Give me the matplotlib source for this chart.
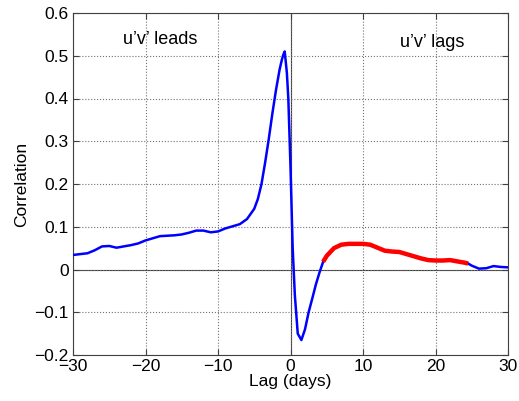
import numpy as np
import matplotlib.pyplot as plt

plt.rcParams['font.family'] = ['Liberation Sans', 'DejaVu Sans']

# lag (days) and correlation
lag = [-30, -29, -28, -27, -26, -25, -24, -23, -22, -21, -20, -19, -18, -17, -16,
       -15, -14, -13, -12, -11, -10, -9, -8, -7, -6, -5, -4.5, -4, -3.5, -3, -2.5,
       -2, -1.5, -1.2, -1, -0.8, -0.5, -0.3, 0, 0.3, 0.6, 1.0, 1.5, 2, 2.5, 3,
       3.5, 4, 4.5]
corr = [0.034, 0.036, 0.038, 0.045, 0.054, 0.055, 0.051, 0.054, 0.057, 0.061,
        0.068, 0.073, 0.078, 0.079, 0.080, 0.082, 0.086, 0.091, 0.091, 0.087,
        0.089, 0.096, 0.101, 0.106, 0.118, 0.142, 0.165, 0.200, 0.250, 0.305,
        0.365, 0.420, 0.468, 0.490, 0.502, 0.510, 0.46, 0.40, 0.24, 0.05, -0.06,
        -0.15, -0.165, -0.140, -0.100, -0.068, -0.035, -0.007, 0.018]

# significant part (red)
lag_sig = [4.5, 5, 6, 7, 8, 9, 10, 11, 12, 13, 14, 15, 16, 17, 18, 19, 20, 21,
           22, 23, 24, 24.5]
corr_sig = [0.018, 0.032, 0.050, 0.058, 0.060, 0.060, 0.060, 0.058, 0.051,
            0.044, 0.042, 0.041, 0.036, 0.031, 0.026, 0.022, 0.021, 0.021,
            0.022, 0.019, 0.016, 0.014]

lag_end = [24.5, 25, 26, 27, 28, 29, 30]
corr_end = [0.014, 0.009, 0.002, 0.003, 0.008, 0.006, 0.005]

fig = plt.figure(figsize=(5.19, 4.01), dpi=100)
ax = fig.add_axes([73 / 519, 1 - 355 / 401, 435 / 519, 342 / 401])

ax.axhline(0, color='0.25', lw=0.8, zorder=1)
ax.axvline(0, color='0.25', lw=0.8, zorder=1)

ax.plot(lag, corr, color='blue', lw=1.8, zorder=3)
ax.plot(lag_end, corr_end, color='blue', lw=1.8, zorder=3)
ax.plot(lag_sig, corr_sig, color='red', lw=3.2, zorder=4, solid_capstyle='butt')

ax.set_xlim(-30, 30)
ax.set_ylim(-0.2, 0.6)
ax.set_xticks([-30, -20, -10, 0, 10, 20, 30])
ax.set_yticks([-0.2, -0.1, 0, 0.1, 0.2, 0.3, 0.4, 0.5, 0.6])
ax.set_yticklabels(['\u22120.2', '\u22120.1', '0', '0.1', '0.2', '0.3', '0.4', '0.5', '0.6'])
ax.grid(True, linestyle=':', color='0.45', lw=0.8)
ax.tick_params(direction='in', top=True, right=True, labelsize=12.5, length=4,
               color='0.25', pad=3)
for s in ax.spines.values():
    s.set_color('0.25')
    s.set_linewidth(0.8)

ax.set_xlabel('Lag (days)', fontsize=12.5, labelpad=0)
ax.set_ylabel('Correlation', fontsize=12.5, labelpad=4)

ax.text(-18, 0.537, 'u\u2019v\u2019 leads', fontsize=13, ha='center', va='center')
ax.text(19.5, 0.53, 'u\u2019v\u2019 lags', fontsize=13, ha='center', va='center')

fig.savefig('out.png', dpi=100)
